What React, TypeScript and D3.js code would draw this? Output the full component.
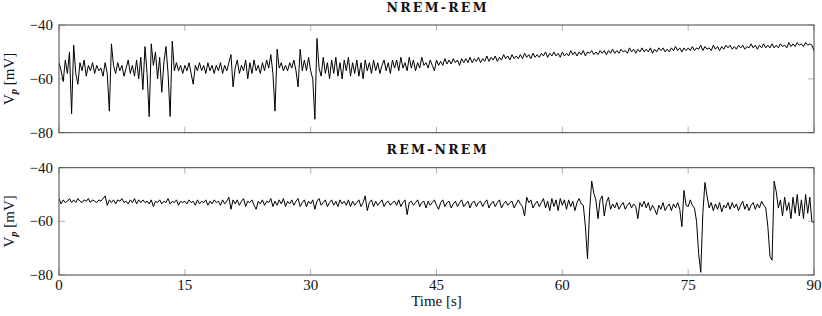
import React from "react";
import * as d3 from "d3";

// ---- data (values in mV, sampled every 0.25 s from 0 to 90 s) ----
const xTicks = [0, 15, 30, 45, 60, 75, 90];
const yTicks = [-80, -60, -40];
const panelTitles = ["NREM-REM", "REM-NREM"];

const nremRem = [
  -54, -57, -61, -53, -58, -50, -73, -47.5, -58, -62, -54, -57, -53, -59, -55, -57, -54, -58, -55, -57,
  -56, -59, -54, -58, -72, -47, -55, -58, -54, -57, -55, -59, -56, -53, -58, -55, -59, -53, -60, -52,
  -64, -48, -58, -74, -47, -55, -50, -60, -52, -65, -54, -48, -58, -74, -46, -57, -54, -57, -55, -58,
  -55, -57, -54, -58, -62, -55, -57, -54, -57, -55, -58, -54, -57, -55, -58, -55, -57, -54, -58, -55,
  -57, -54, -51, -63, -56, -53, -58, -55, -57, -53, -60, -54, -58, -53, -57, -55, -58, -54, -57, -53,
  -56, -51, -58, -72, -49, -56, -54, -57, -55, -57, -54, -56, -53, -57, -63, -49, -57, -53, -57, -52,
  -57, -60, -75, -45, -56, -59, -52, -58, -54, -60, -53, -58, -52, -59, -54, -60, -53, -57, -52, -59,
  -54, -58, -53, -59, -54, -60, -53, -57, -54, -58, -53, -57, -54, -58, -55, -53, -57, -54, -58, -53,
  -56, -53, -57, -52, -56, -54, -57, -52, -56, -53, -57, -54, -56, -52, -55, -54, -56, -53, -55, -57,
  -53, -55, -53.5, -55, -52.5, -54.5, -53, -54.5, -52.5, -54, -53, -55, -52.5, -54, -52.5, -54, -52, -54, -52.5, -53.5,
  -52, -54, -52.5, -53.5, -51.5, -53.5, -52, -53, -51.5, -53.5, -52, -53, -51, -52.5, -51.5, -53, -51, -52.5, -51.5, -52.5,
  -51, -52.5, -50.5, -52, -51, -52.5, -50.5, -52, -51, -52, -50.5, -51.5, -50, -52, -50.5, -51.5, -50, -51.5, -50.5, -52,
  -50, -51.5, -50.5, -51.5, -49.5, -51, -50, -51.5, -50, -51, -49.5, -51.5, -50, -50.5, -49.5, -51, -50, -51, -49.5, -50.5,
  -49.5, -51, -49.5, -50.5, -49, -50.5, -49.5, -50.5, -49, -50, -49.5, -50.5, -48.5, -50, -49, -50.5, -49, -50, -48.5, -50,
  -49, -50, -48.5, -50.5, -49, -50, -48.5, -49.5, -48.5, -50, -49, -50, -48.5, -49.5, -48, -49.5, -48.5, -50, -48.5, -49.5,
  -48.5, -49.5, -48, -49.5, -48.5, -49, -47.5, -49.5, -48, -49, -48.5, -49.5, -47.5, -49, -48, -49.5, -48, -49, -47.5, -48.5,
  -47.5, -49, -48, -49, -47.5, -48.5, -47.5, -49, -48, -48.5, -47, -48.5, -47.5, -49, -47.5, -48.5, -47, -48.5, -47.5, -48.5,
  -47, -48.5, -47.5, -48.5, -47, -48, -47.5, -48.5, -46.5, -48, -47, -48, -46.5, -47.5, -47, -48, -46.5, -47.5, -47, -47.5,
  -49.5,
];

const remNrem = [
  -51.5, -53.5, -52, -53, -52.5, -51.5, -53, -52, -53, -51.5, -52.5, -53, -52, -52.5, -51.5, -53, -52, -52.5, -53, -52,
  -52.5, -51.5, -50.5, -54, -52, -53, -52, -53.5, -52, -52.5, -51.5, -53, -52.5, -53.5, -52, -53, -51.5, -53.5, -52, -53,
  -52, -53, -52.5, -53.5, -52, -54.5, -52.5, -53, -52, -53.5, -52.5, -53, -51.5, -53.5, -52.5, -53, -52, -54, -52.5, -53,
  -52.5, -53.5, -52, -53, -52.5, -54, -52, -53.5, -52.5, -53, -52, -54, -52.5, -53.5, -52, -53, -52.5, -54, -52, -53.5,
  -52.5, -51, -55.5, -52, -53.5, -52, -54, -52.5, -51.5, -54.5, -52.5, -53, -52, -54, -55.5, -52.5, -53.5, -52, -54, -52.5,
  -53, -51.5, -54.5, -52.5, -54, -52, -53.5, -51.5, -54.5, -52.5, -53.5, -52, -54, -52.5, -51.5, -54.5, -53, -52, -54.5, -52.5,
  -53.5, -52, -55.5, -52.5, -51.5, -54, -53, -52, -54.5, -53, -52, -54, -52.5, -54.5, -52, -53.5, -52.5, -54, -52, -54.5,
  -52.5, -54, -53, -52, -54.5, -53, -50.5, -56, -53, -52, -54.5, -52.5, -54, -53, -52, -54.5, -53, -52.5, -54, -53,
  -52.5, -54, -52, -54.5, -53, -52, -57.5, -53, -52.5, -54, -53, -52, -54.5, -53, -52.5, -55, -52.5, -54, -53, -52,
  -54, -55.5, -53, -52, -54.5, -53, -52.5, -55, -53.5, -52.5, -54.5, -53, -52, -54.5, -53.5, -52.5, -55, -53, -52.5, -54.5,
  -53, -52.5, -54.5, -53, -52, -55, -53.5, -52.5, -54.5, -53, -52, -55, -53.5, -52.5, -54, -53, -52.5, -55, -53.5, -52,
  -53.5, -54.5, -58, -51, -53, -52, -55, -53.5, -52.5, -54.5, -53, -51.5, -55, -52.5, -56, -51.5, -54.5, -52, -56, -51.5,
  -54, -52, -55.5, -52, -54.5, -52.5, -56, -53, -51.5, -53.5, -54, -62, -74, -56, -45, -49.5, -52, -59, -52, -50.5,
  -58, -53, -51, -55.5, -53.5, -55, -53, -55.5, -54, -53, -55.5, -54, -53, -55, -53.5, -54.5, -59, -53, -54.5, -52.5,
  -55, -53, -56, -54, -55.5, -57.5, -54, -55.5, -53, -56, -54.5, -53.5, -56, -53.5, -55, -53, -55.5, -62, -48.5, -54,
  -54.5, -52, -54, -55, -60, -72, -79, -57, -45.5, -50.5, -55, -53, -56, -53.5, -55.5, -53, -56.5, -54, -55, -53,
  -55.5, -53, -55, -53.5, -56, -54, -52.5, -55.5, -53.5, -56, -54, -53, -55.5, -53.5, -55, -52.5, -54, -55, -62, -73,
  -74.5, -45, -49, -55, -52, -58, -51, -56, -53, -59, -51, -57, -50, -58, -52, -59, -50, -57, -51, -60,
  -60.5,
];

const series = [nremRem, remNrem];

// ---- layout ----
const W = 822;
const H = 316;
const left = 59;
const right = 814;
const panels = [
  { top: 25, bottom: 132.7 },
  { top: 167.7, bottom: 275 },
];
const FONT = '"Liberation Serif", "Times New Roman", Times, "DejaVu Serif", serif';
const TITLE_FONT = '"DejaVu Serif", "Liberation Serif", serif';
const textStyle = { fontFamily: FONT };

export default function App() {
  const x = d3.scaleLinear().domain([0, 90]).range([left, right]);

  return (
    <svg
      width={W}
      height={H}
      style={{ position: "absolute", left: 0, top: 0, background: "#fff", fontFamily: FONT }}
    >
      <defs>
        {panels.map((p, i) => (
          <clipPath id={`clip${i}`} key={i}>
            <rect x={left} y={p.top} width={right - left} height={p.bottom - p.top} />
          </clipPath>
        ))}
      </defs>
      {panels.map((p, i) => {
        const y = d3.scaleLinear().domain([-80, -40]).range([p.bottom, p.top]);
        const vals = series[i];
        const n = vals.length;
        const line = d3
          .line<number>()
          .x((_, k) => x((k * 90) / (n - 1)))
          .y((v) => y(v));
        const cx = (left + right) / 2;
        return (
          <g key={i}>
            {xTicks.map((t) => (
              <g key={`xt${t}`} stroke="#a0a0a0" strokeWidth={0.8}>
                <line x1={x(t)} x2={x(t)} y1={p.bottom} y2={p.bottom - 6} />
                <line x1={x(t)} x2={x(t)} y1={p.top} y2={p.top + 6} />
              </g>
            ))}
            {yTicks.map((t) => (
              <g key={`yt${t}`} stroke="#a0a0a0" strokeWidth={0.8}>
                <line x1={left} x2={left + 6} y1={y(t)} y2={y(t)} />
                <line x1={right} x2={right - 6} y1={y(t)} y2={y(t)} />
              </g>
            ))}
            <path
              d={line(vals) || ""}
              fill="none"
              stroke="#000"
              strokeWidth={1}
              strokeLinejoin="round"
              clipPath={`url(#clip${i})`}
            />
            <rect
              x={left}
              y={p.top}
              width={right - left}
              height={p.bottom - p.top}
              fill="none"
              stroke="#444"
              strokeWidth={1}
            />
            {yTicks.map((t) => (
              <text
                key={`yl${t}`}
                x={left - 6}
                y={y(t) + 5}
                textAnchor="end"
                fontSize={15}
                fill="#111"
                style={textStyle}
              >
                {"\u2212" + Math.abs(t)}
              </text>
            ))}
            {i === 1 &&
              xTicks.map((t) => (
                <text
                  key={`xl${t}`}
                  x={x(t)}
                  y={p.bottom + 15}
                  textAnchor="middle"
                  fontSize={15}
                  fill="#111"
                  style={textStyle}
                >
                  {t}
                </text>
              ))}
            <text
              x={cx}
              y={p.top - 13.5}
              textAnchor="middle"
              fontSize={12.5}
              fontWeight="bold"
              fill="#111"
              textLength={100}
              lengthAdjust="spacing"
              style={{ fontFamily: TITLE_FONT }}
            >
              {panelTitles[i]}
            </text>
            <text
              transform={`translate(13.5,${(p.top + p.bottom) / 2}) rotate(-90)`}
              textAnchor="middle"
              fontSize={15}
              fill="#111"
              style={textStyle}
            >
              V
              <tspan fontSize={10.5} fontStyle="italic" fontWeight="bold" dy={3}>
                p
              </tspan>
              <tspan dy={-3}> [mV]</tspan>
            </text>
          </g>
        );
      })}
      <text
        x={(left + right) / 2}
        y={306}
        textAnchor="middle"
        fontSize={15}
        fill="#111"
        style={textStyle}
      >
        Time [s]
      </text>
    </svg>
  );
}
